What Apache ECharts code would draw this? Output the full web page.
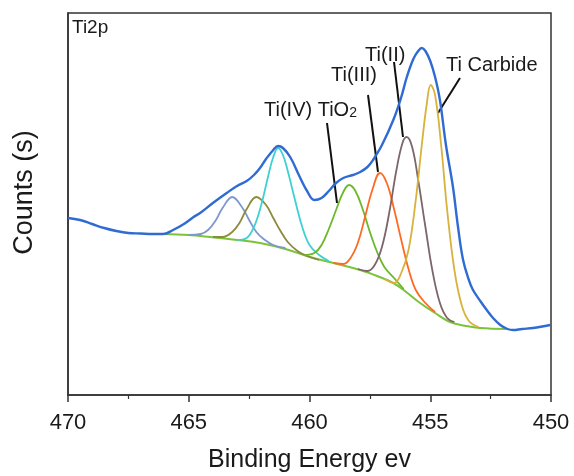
<!DOCTYPE html>
<html>
<head>
<meta charset="utf-8">
<script src="https://cdn.jsdelivr.net/npm/echarts@6.0.0/dist/echarts.min.js"></script>
<style>
  html, body { margin: 0; padding: 0; background: #fff; }
  #chart { width: 574px; height: 476px; }
</style>
</head>
<body>
<div id="chart"></div>
<script>
// binding energy (eV), counts (arbitrary units)
const envelope = [
  [470, 177], [469.5, 175], [469, 171], [468.5, 167], [468, 164], [467.5, 162], [467, 161.5],
  [466.5, 161], [466.07, 161], [465.65, 165], [465.2, 171], [464.8, 178], [464.53, 182],
  [464, 192], [463.43, 202], [463, 209], [462.6, 214], [462.3, 220], [462.05, 227], [461.8, 236],
  [461.5, 245], [461.3, 249], [461.1, 247], [460.8, 238], [460.4, 218], [460.1, 204], [459.8, 195],
  [459.5, 197], [459.2, 204], [458.9, 212], [458.6, 217], [458.2, 220], [457.9, 223], [457.6, 228],
  [457.37, 235], [457, 250], [456.53, 275], [456.2, 298], [455.97, 318], [455.7, 336], [455.5, 344],
  [455.35, 347], [455.2, 344], [455, 334], [454.8, 318], [454.6, 295], [454.35, 250], [454.06, 208],
  [453.85, 168], [453.64, 135], [453.4, 115], [453.23, 105], [452.9, 93], [452.66, 85], [452.4, 77],
  [452.1, 70], [451.8, 66], [451.57, 65], [451.2, 66], [450.74, 67], [450.04, 70]
];
const background = [
  [466.07, 161], [465, 160], [464.12, 158], [463, 155], [462.05, 152], [461, 146], [459.98, 138],
  [459, 132], [457.9, 125], [457.2, 119], [456.53, 112], [456, 103], [455.42, 92], [454.8, 82],
  [454.18, 73], [453.5, 69], [452.94, 67], [451.83, 66]
];
const peakA = [ // 463.2
  [465, 160], [464.5, 161], [464.2, 165], [463.9, 174], [463.6, 187], [463.2, 198], [462.8, 188],
  [462.5, 175], [462.2, 163], [461.9, 156], [461.5, 150], [461, 147]
];
const peakB = [ // 462.2
  [464, 158], [463.6, 158], [463.2, 163], [462.9, 172], [462.6, 186], [462.2, 198], [461.8, 190],
  [461.5, 177], [461.2, 164], [460.9, 153], [460.5, 144], [460.1, 139], [459.6, 135]
];
const peakC = [ // 461.3
  [463, 155], [462.6, 157], [462.3, 168], [462, 190], [461.7, 220], [461.5, 238], [461.3, 247],
  [461.1, 240], [460.9, 224], [460.6, 195], [460.3, 168], [460, 150], [459.6, 140], [459.2, 134]
];
const peakTiO2 = [
  [460.2, 140], [459.8, 142], [459.5, 150], [459.2, 166], [458.9, 185], [458.6, 203], [458.36, 210],
  [458.1, 204], [457.8, 186], [457.5, 163], [457.2, 143], [456.9, 128], [456.5, 117], [456.1, 106]
];
const peakTi3 = [
  [459, 132], [458.6, 131], [458.3, 137], [458, 152], [457.7, 178], [457.4, 205], [457.08, 222],
  [456.8, 212], [456.5, 186], [456.2, 155], [455.9, 126], [455.6, 105], [455.2, 92], [454.8, 83]
];
const peakTi2 = [
  [458, 126], [457.6, 124], [457.3, 130], [457, 148], [456.7, 182], [456.4, 225], [456.15, 252],
  [455.98, 258], [455.75, 248], [455.5, 215], [455.2, 168], [454.9, 123], [454.6, 92], [454.3, 77],
  [454, 73]
];
const peakCarbide = [
  [456.9, 116], [456.5, 112], [456.2, 122], [455.9, 145], [455.6, 195], [455.35, 250], [455.15, 290],
  [454.98, 310], [454.8, 300], [454.55, 250], [454.3, 185], [454, 125], [453.7, 90], [453.4, 74],
  [453, 68]
];
const xTicks = [470, 465, 460, 455, 450];

const font = 'Liberation Sans, Arial, sans-serif';

function line(name, data, color, width) {
  return {
    name: name,
    type: 'line',
    data: data,
    smooth: 0.4,
    showSymbol: false,
    lineStyle: { color: color, width: width || 1.8 },
    itemStyle: { color: color }
  };
}

const chart = echarts.init(document.getElementById('chart'));

chart.setOption({
  animation: false,
  backgroundColor: '#fff',
  grid: {
    left: 68, right: 23, top: 13, bottom: 81,
    outerBoundsMode: 'none',
    show: true, borderColor: '#333', borderWidth: 1.5, backgroundColor: 'transparent'
  },
  xAxis: {
    type: 'value',
    min: xTicks[xTicks.length - 1],
    max: xTicks[0],
    interval: 5,
    inverse: true,
    name: 'Binding Energy ev',
    nameLocation: 'middle',
    nameGap: 53,
    nameTextStyle: { fontFamily: font, fontSize: 25, color: '#1a1a1a' },
    axisLine: { onZero: false, lineStyle: { color: '#333', width: 1.5 } },
    axisTick: { inside: false, length: 7, lineStyle: { color: '#333', width: 1.5 } },
    minorTick: { show: true, splitNumber: 2, length: 4, lineStyle: { color: '#333', width: 1.2 } },
    axisLabel: { fontFamily: font, fontSize: 22, color: '#1a1a1a', margin: 17 },
    splitLine: { show: false }
  },
  yAxis: {
    type: 'value',
    min: 0,
    max: 382,
    name: 'Counts (s)',
    nameLocation: 'middle',
    nameGap: 30,
    nameTextStyle: { fontFamily: font, fontSize: 27, color: '#1a1a1a', padding: [0, 0, 0, 23] },
    axisLine: { show: true, lineStyle: { color: '#333', width: 1.5 } },
    axisTick: { show: false },
    axisLabel: { show: false },
    splitLine: { show: false }
  },
  series: [
    line('Background', background, '#7cc23a', 2),
    line('Peak 463.2', peakA, '#7d97cf'),
    line('Peak 462.2', peakB, '#8c8a3c'),
    line('Peak 461.3', peakC, '#3fd0d2'),
    line('Ti(IV) TiO2', peakTiO2, '#6cb82c'),
    line('Ti(III)', peakTi3, '#ff6a22'),
    line('Ti(II)', peakTi2, '#7b666b'),
    line('Ti Carbide', peakCarbide, '#d8b23c'),
    line('Envelope', envelope, '#2f6bd3', 2.4)
  ],
  graphic: [
    { type: 'text', left: 72, top: 18, style: { text: 'Ti2p', font: '19px ' + font, fill: '#1a1a1a' } },
    {
      type: 'text', left: 264, top: 96,
      style: {
        text: '{a|Ti(IV) TiO}{s|2}',
        rich: {
          a: { font: '20px ' + font, fill: '#1a1a1a', lineHeight: 24, verticalAlign: 'bottom' },
          s: { font: '14px ' + font, fill: '#1a1a1a', lineHeight: 24, verticalAlign: 'bottom', padding: [10, 0, 0, 0] }
        }
      }
    },
    { type: 'text', left: 331, top: 65, style: { text: 'Ti(III)', font: '20px ' + font, fill: '#1a1a1a' } },
    { type: 'text', left: 365, top: 45, style: { text: 'Ti(II)', font: '20px ' + font, fill: '#1a1a1a' } },
    { type: 'text', left: 446, top: 55, style: { text: 'Ti Carbide', font: '20px ' + font, fill: '#1a1a1a' } },
    { type: 'line', shape: { x1: 327, y1: 123, x2: 337, y2: 203 }, style: { stroke: '#111', lineWidth: 2 } },
    { type: 'line', shape: { x1: 368, y1: 95, x2: 378, y2: 172 }, style: { stroke: '#111', lineWidth: 2 } },
    { type: 'line', shape: { x1: 394, y1: 62, x2: 403, y2: 137 }, style: { stroke: '#111', lineWidth: 2 } },
    { type: 'line', shape: { x1: 460, y1: 78, x2: 438, y2: 113 }, style: { stroke: '#111', lineWidth: 2 } }
  ]
});

window.addEventListener('resize', () => {
  chart && chart.resize();
});
</script>
</body>
</html>
